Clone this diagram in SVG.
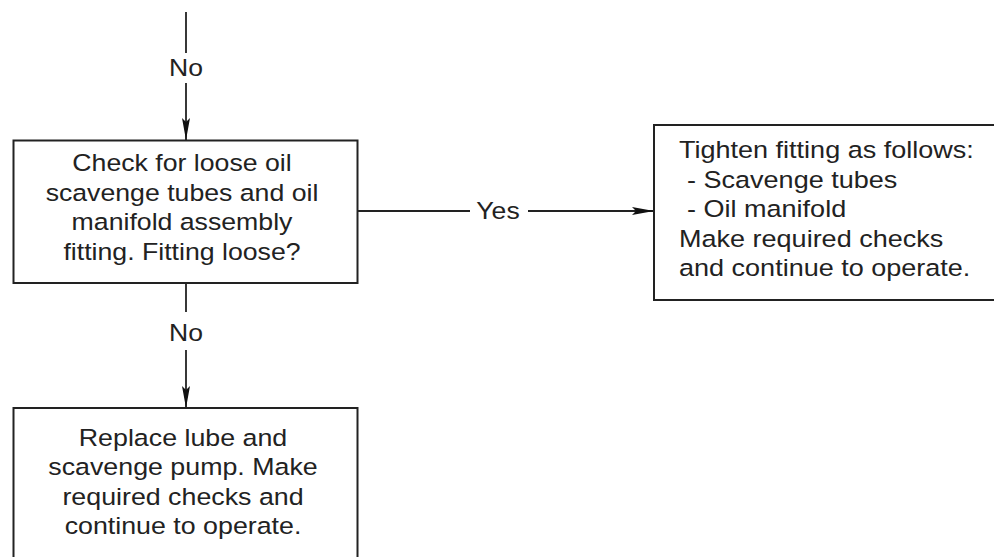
<svg xmlns="http://www.w3.org/2000/svg" width="994" height="557" viewBox="0 0 994 557">
  <style>
    .box { fill: #ffffff; stroke: #222222; stroke-width: 2; }
    .wire { fill: none; stroke: #222222; stroke-width: 1.8; }
    .lbl { font-family: "Liberation Sans", Arial, Helvetica, sans-serif; font-size: 23.5px; fill: #222222; }
    .mid { text-anchor: middle; }
  </style>
  <defs>
    <marker id="arrow" markerUnits="userSpaceOnUse" markerWidth="24" markerHeight="10" refX="22" refY="4.5" orient="auto">
      <path d="M0,0.5 L22,4.5 L0,8.5 L4,4.5 z" fill="#111111"/>
    </marker>
  </defs>

  <rect width="994" height="557" fill="#ffffff"/>

  <!-- connectors -->
  <g id="connectors">
    <line class="wire" x1="186" y1="12" x2="186" y2="53"/>
    <line class="wire" x1="186" y1="83" x2="186" y2="140" marker-end="url(#arrow)"/>
    <g transform="translate(186,0) scale(1.13,1)"><text class="lbl mid" x="0" y="76">No</text></g>

    <line class="wire" x1="358" y1="211" x2="470" y2="211"/>
    <line class="wire" x1="528" y1="211" x2="654" y2="211" marker-end="url(#arrow)"/>
    <g transform="translate(498,0) scale(1.13,1)"><text class="lbl mid" x="0" y="219.5">Yes</text></g>

    <line class="wire" x1="186" y1="283" x2="186" y2="312"/>
    <line class="wire" x1="186" y1="350" x2="186" y2="408" marker-end="url(#arrow)"/>
    <g transform="translate(186,0) scale(1.13,1)"><text class="lbl mid" x="0" y="341">No</text></g>
  </g>

  <!-- decision: loose fittings -->
  <g id="check-fittings">
    <rect class="box" x="13.5" y="140.5" width="344" height="142.5"/>
    <g transform="translate(182,0) scale(1.135,1)">
      <text class="lbl mid" x="0" y="171.5">Check for loose oil</text>
      <text class="lbl mid" x="0" y="201">scavenge tubes and oil</text>
      <text class="lbl mid" x="0" y="230.5">manifold assembly</text>
      <text class="lbl mid" x="0" y="260">fitting. Fitting loose?</text>
    </g>
  </g>

  <!-- action: tighten fittings -->
  <g id="tighten-fittings">
    <rect class="box" x="654" y="125" width="360" height="175"/>
    <g transform="translate(679,0) scale(1.15,1)">
      <text class="lbl" x="0" y="158.5">Tighten fitting as follows:</text>
      <text class="lbl" x="7" y="188">- Scavenge tubes</text>
      <text class="lbl" x="7" y="217.5">- Oil manifold</text>
      <text class="lbl" x="0" y="247">Make required checks</text>
      <text class="lbl" x="0" y="276.5">and continue to operate.</text>
    </g>
  </g>

  <!-- action: replace pump -->
  <g id="replace-pump">
    <rect class="box" x="13.5" y="408" width="344" height="170"/>
    <g transform="translate(183,0) scale(1.14,1)">
      <text class="lbl mid" x="0" y="446">Replace lube and</text>
      <text class="lbl mid" x="0" y="475.5">scavenge pump. Make</text>
      <text class="lbl mid" x="0" y="505">required checks and</text>
      <text class="lbl mid" x="0" y="534.5">continue to operate.</text>
    </g>
  </g>
</svg>
